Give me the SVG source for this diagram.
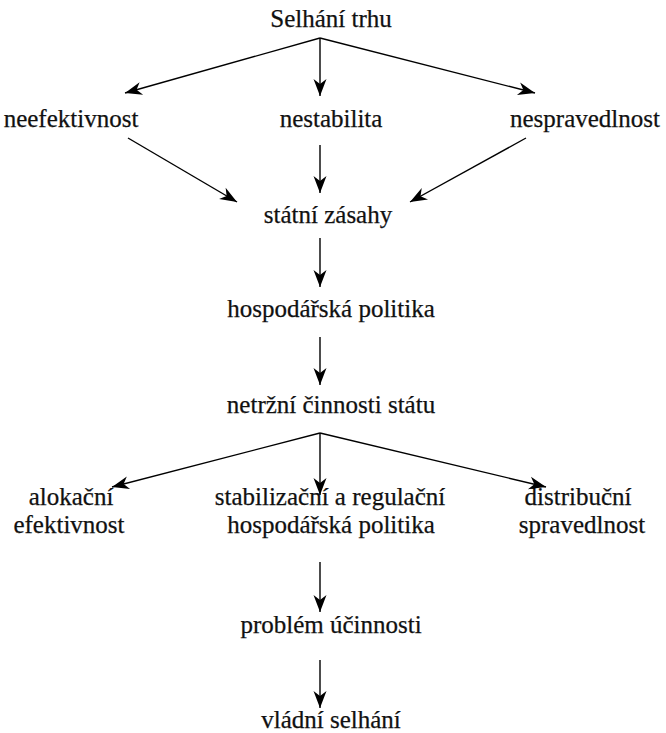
<svg xmlns="http://www.w3.org/2000/svg" width="666" height="733" viewBox="0 0 666 733">
<defs>
<marker id="ah" markerUnits="userSpaceOnUse" markerWidth="20" markerHeight="14" viewBox="-18 -7 20 14" refX="0" refY="0" orient="auto">
<path d="M0,0 L-17,-6.5 L-12,0 L-17,6.5 Z" fill="#000"/>
</marker>
</defs>
<style>
.t text{font-family:'Liberation Serif','Times New Roman',serif;font-size:25px;fill:#111;stroke:#111;stroke-width:0.25;text-anchor:middle}
.c line{stroke:#000;stroke-width:1.4;marker-end:url(#ah)}
</style>
<g class="t">
<g id="n1"><text x="331" y="27">Selhání trhu</text></g>
<g id="n2"><text x="71" y="127">neefektivnost</text></g>
<g id="n3"><text x="331" y="127">nestabilita</text></g>
<g id="n4"><text x="585" y="127">nespravedlnost</text></g>
<g id="n5"><text x="328" y="223">státní zásahy</text></g>
<g id="n6"><text x="331" y="317">hospodářská politika</text></g>
<g id="n7"><text x="331" y="413">netržní činnosti státu</text></g>
<g id="n8"><text x="71" y="505">alokační</text><text x="69" y="533">efektivnost</text></g>
<g id="n9"><text x="330" y="505">stabilizační a regulační</text><text x="331" y="533">hospodářská politika</text></g>
<g id="n10"><text x="578" y="505">distribuční</text><text x="582" y="533">spravedlnost</text></g>
<g id="n11"><text x="331" y="633">problém účinnosti</text></g>
<g id="n12"><text x="331" y="728">vládní selhání</text></g>
</g>
<g id="connectors" class="c">
<line x1="320" y1="38" x2="125" y2="93"/>
<line x1="320" y1="38" x2="320" y2="96"/>
<line x1="320" y1="38" x2="535" y2="93"/>
<line x1="128" y1="138" x2="237" y2="202"/>
<line x1="320" y1="145" x2="320" y2="193"/>
<line x1="526" y1="138" x2="410" y2="202"/>
<line x1="320" y1="238" x2="320" y2="287"/>
<line x1="320" y1="337" x2="320" y2="385"/>
<line x1="320" y1="433" x2="112" y2="487"/>
<line x1="320" y1="433" x2="320" y2="495"/>
<line x1="320" y1="433" x2="546" y2="487"/>
<line x1="320" y1="562" x2="320" y2="612"/>
<line x1="320" y1="660" x2="320" y2="708"/>
</g>
</svg>
